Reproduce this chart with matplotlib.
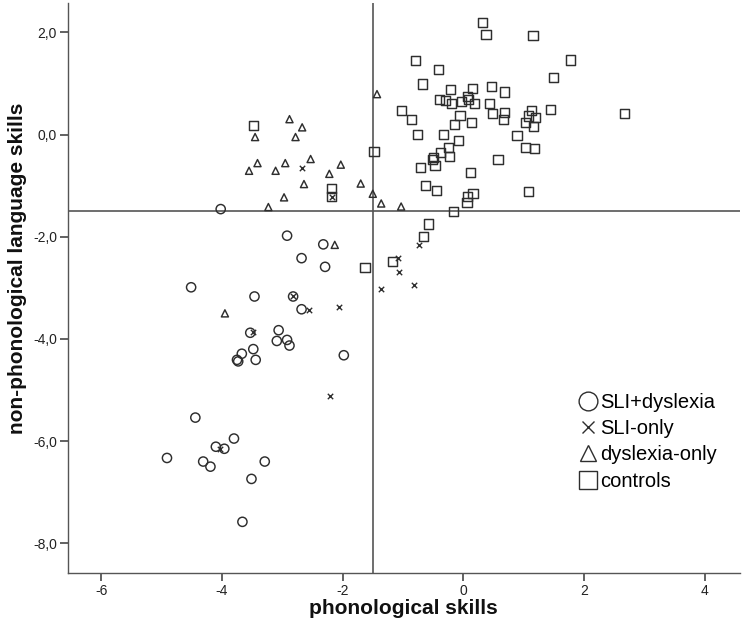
import matplotlib
matplotlib.use("Agg")
import matplotlib.pyplot as plt
from matplotlib.lines import Line2D
from matplotlib import font_manager

# ---------------- data ----------------
sli_dys_x = [-4.02, -2.92, -2.32, -2.68, -2.29, -4.51, -3.46, -2.82, -2.68, -3.53,
             -3.06, -3.09, -2.92, -2.88, -3.48, -3.67, -3.75, -3.73, -3.44, -1.98,
             -4.44, -3.80, -4.10, -3.96, -4.91, -4.31, -4.19, -3.29, -3.51, -3.66]
sli_dys_y = [-1.46, -1.98, -2.15, -2.42, -2.59, -2.99, -3.17, -3.17, -3.42, -3.88,
             -3.83, -4.04, -4.02, -4.13, -4.20, -4.29, -4.41, -4.44, -4.41, -4.32,
             -5.54, -5.95, -6.11, -6.15, -6.33, -6.40, -6.50, -6.40, -6.74, -7.58]

sli_only_x = [-2.68, -2.18, -1.08, -1.07, -1.36, -0.81, -0.73, -2.82, -2.55, -2.06,
              -3.49, -2.21, -4.03]
sli_only_y = [-0.66, -1.22, -2.41, -2.70, -3.03, -2.95, -2.16, -3.17, -3.43, -3.38,
              -3.86, -5.11, -6.15]

dys_only_x = [-2.88, -2.67, -3.45, -2.78, -1.43, -2.53, -3.41, -3.55, -2.95, -3.11,
              -2.03, -2.22, -2.64, -1.70, -2.97, -1.50, -3.23, -1.36, -1.03, -2.13,
              -3.95]
dys_only_y = [0.30, 0.14, -0.05, -0.05, 0.79, -0.48, -0.56, -0.71, -0.56, -0.71,
              -0.59, -0.77, -0.97, -0.96, -1.23, -1.16, -1.42, -1.35, -1.41, -2.16,
              -3.50]

controls_x = [-3.47, -2.18, -2.18, -1.48, -1.63, -1.17,
              0.315, 0.376, 1.155, -0.79, -0.41, 1.77, 1.50, -0.68, -0.21, 0.15,
              0.47, 0.68, -0.39, -0.30, -0.19, -0.03, 0.07, 0.08, 0.19, 0.44,
              0.49, 0.68, 0.66, 1.13, 1.08, 1.20, 1.03, 1.16, 1.44, 2.67,
              -1.03, -0.86, -0.055, -0.15, 0.13, -0.76, -0.33, -0.08, 0.89, -0.25,
              -0.38, -0.50, -0.51, -0.23, -0.47, -0.71, 1.03, 1.18, 0.575, 0.12,
              -0.62, -0.44, 0.16, 0.07, 0.06, 1.08, -0.16, -0.58, -0.66]
controls_y = [0.17, -1.05, -1.22, -0.34, -2.61, -2.48,
              2.19, 1.96, 1.93, 1.45, 1.27, 1.46, 1.11, 0.99, 0.88, 0.90,
              0.94, 0.83, 0.69, 0.66, 0.60, 0.64, 0.74, 0.68, 0.61, 0.61,
              0.41, 0.43, 0.30, 0.47, 0.36, 0.34, 0.24, 0.15, 0.49, 0.41,
              0.47, 0.29, 0.37, 0.20, 0.24, 0.00, 0.00, -0.11, -0.02, -0.25,
              -0.35, -0.45, -0.49, -0.43, -0.61, -0.64, -0.25, -0.28, -0.49, -0.74,
              -1.00, -1.09, -1.15, -1.22, -1.33, -1.11, -1.51, -1.75, -2.00]

group_labels = ["SLI+dyslexia", "SLI-only", "dyslexia-only", "controls"]
ref_x = -1.5
ref_y = -1.5

x_ticks = [-6, -4, -2, 0, 2, 4]
x_tick_labels = ["-6", "-4", "-2", "0", "2", "4"]
y_ticks = [2, 0, -2, -4, -6, -8]
y_tick_labels = ["2,0", "0,0", "-2,0", "-4,0", "-6,0", "-8,0"]

x_label = "phonological skills"
y_label = "non-phonological language skills"

# ---------------- style ----------------
names = {f.name for f in font_manager.fontManager.ttflist}
narrow = "Liberation Sans Narrow" in names
plt.rcParams["font.family"] = ["Liberation Sans", "DejaVu Sans"]
label_family = ["Liberation Sans Narrow", "Liberation Sans"] if narrow else ["Liberation Sans"]
label_size = 18 if narrow else 15

W, H = 742, 627
fig = plt.figure(figsize=(W / 100, H / 100), dpi=100)
L, R, T, B = 68, 740, 3.3, 572.7
ax = fig.add_axes([L / W, 1 - B / H, (R - L) / W, (B - T) / H])

edge = "#2e2e2e"
line_c = "#555555"

ax.axvline(ref_x, color=line_c, lw=1.2, zorder=1)
ax.axhline(ref_y, color=line_c, lw=1.2, zorder=1)

ax.scatter(sli_dys_x, sli_dys_y, s=44, marker="o", facecolors="none",
           edgecolors=edge, linewidths=1.05, zorder=3)
ax.scatter(sli_only_x, sli_only_y, s=15, marker="x", c=edge, linewidths=1.0, zorder=3)
ax.scatter(dys_only_x, dys_only_y, s=26, marker="^", facecolors="none",
           edgecolors=edge, linewidths=1.05, zorder=3)
ax.scatter(controls_x, controls_y, s=44, marker="s", facecolors="none",
           edgecolors=edge, linewidths=1.05, zorder=3)

ax.set_xlim((L - 463.3) / 60.35, (R - 463.3) / 60.35)
ax.set_ylim((134.5 - B) / 51.1, (134.5 - T) / 51.1)

ax.set_xticks(x_ticks)
ax.set_xticklabels(x_tick_labels)
ax.set_yticks(y_ticks)
ax.set_yticklabels(y_tick_labels)
ax.tick_params(direction="out", length=6, width=1.3, color=line_c,
               labelsize=10, labelcolor="#222222", pad=2)

for s in ["top", "right"]:
    ax.spines[s].set_visible(False)
for s in ["left", "bottom"]:
    ax.spines[s].set_color(line_c)
    ax.spines[s].set_linewidth(1.0)

fig.text(403 / W, 1 - 608 / H, x_label, ha="center", va="center",
         fontsize=label_size, fontweight="bold", family=label_family, color="#111111")
fig.text(18 / W, 1 - 268 / H, y_label, ha="center", va="center", rotation=90,
         fontsize=label_size, fontweight="bold", family=label_family, color="#111111")

handles = [
    Line2D([], [], ls="none", marker="o", ms=13.5, mfc="none", mec=edge, mew=1.0),
    Line2D([], [], ls="none", marker="x", ms=9, mec=edge, mew=1.0),
    Line2D([], [], ls="none", marker="^", ms=12, mfc="none", mec=edge, mew=1.0),
    Line2D([], [], ls="none", marker="s", ms=13.5, mfc="none", mec=edge, mew=1.0),
]
ax.legend(handles, group_labels, loc="upper left",
          bbox_to_anchor=((578.7 - L) / (R - L), (B - 393) / (B - T)),
          frameon=False, fontsize=14.5, handlelength=0.9, handletextpad=0.15,
          labelspacing=0.36, borderpad=0, borderaxespad=0)

fig.savefig("out.png", dpi=100)
